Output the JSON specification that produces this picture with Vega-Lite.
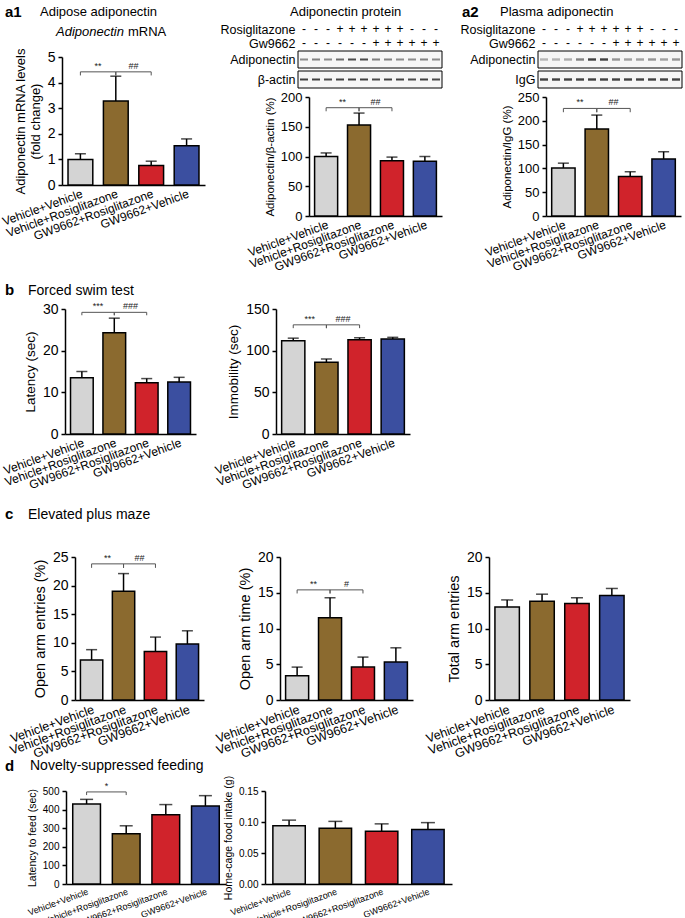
{
"$schema":"https://vega.github.io/schema/vega-lite/v6.json",
"padding":0,
"autosize":{"type":"pad"},
"columns":6,
"spacing":0,
"bounds":"flush",
"align":"each",
"datasets":{
"E":[],
"pm":[{"row":"Rosiglitazone","lane":1,"s":"-"},{"row":"Rosiglitazone","lane":2,"s":"-"},{"row":"Rosiglitazone","lane":3,"s":"-"},{"row":"Rosiglitazone","lane":4,"s":"+"},{"row":"Rosiglitazone","lane":5,"s":"+"},{"row":"Rosiglitazone","lane":6,"s":"+"},{"row":"Rosiglitazone","lane":7,"s":"+"},{"row":"Rosiglitazone","lane":8,"s":"+"},{"row":"Rosiglitazone","lane":9,"s":"+"},{"row":"Rosiglitazone","lane":10,"s":"-"},{"row":"Rosiglitazone","lane":11,"s":"-"},{"row":"Rosiglitazone","lane":12,"s":"-"},
{"row":"Gw9662","lane":1,"s":"-"},{"row":"Gw9662","lane":2,"s":"-"},{"row":"Gw9662","lane":3,"s":"-"},{"row":"Gw9662","lane":4,"s":"-"},{"row":"Gw9662","lane":5,"s":"-"},{"row":"Gw9662","lane":6,"s":"-"},{"row":"Gw9662","lane":7,"s":"+"},{"row":"Gw9662","lane":8,"s":"+"},{"row":"Gw9662","lane":9,"s":"+"},{"row":"Gw9662","lane":10,"s":"+"},{"row":"Gw9662","lane":11,"s":"+"},{"row":"Gw9662","lane":12,"s":"+"}],
"hm":[{"row":"Adiponectin","lane":1,"v":0.5},{"row":"Adiponectin","lane":2,"v":0.55},{"row":"Adiponectin","lane":3,"v":0.5},{"row":"Adiponectin","lane":4,"v":0.65},{"row":"Adiponectin","lane":5,"v":0.8},{"row":"Adiponectin","lane":6,"v":0.8},{"row":"Adiponectin","lane":7,"v":0.55},{"row":"Adiponectin","lane":8,"v":0.55},{"row":"Adiponectin","lane":9,"v":0.5},{"row":"Adiponectin","lane":10,"v":0.5},{"row":"Adiponectin","lane":11,"v":0.55},{"row":"Adiponectin","lane":12,"v":0.5},
{"row":"β-actin","lane":1,"v":0.85},{"row":"β-actin","lane":2,"v":0.85},{"row":"β-actin","lane":3,"v":0.8},{"row":"β-actin","lane":4,"v":0.85},{"row":"β-actin","lane":5,"v":0.85},{"row":"β-actin","lane":6,"v":0.85},{"row":"β-actin","lane":7,"v":0.8},{"row":"β-actin","lane":8,"v":0.85},{"row":"β-actin","lane":9,"v":0.85},{"row":"β-actin","lane":10,"v":0.8},{"row":"β-actin","lane":11,"v":0.85},{"row":"β-actin","lane":12,"v":0.8}],
"ha":[{"row":"Adiponectin","lane":1,"v":0.3},{"row":"Adiponectin","lane":2,"v":0.3},{"row":"Adiponectin","lane":3,"v":0.35},{"row":"Adiponectin","lane":4,"v":0.55},{"row":"Adiponectin","lane":5,"v":0.85},{"row":"Adiponectin","lane":6,"v":0.85},{"row":"Adiponectin","lane":7,"v":0.45},{"row":"Adiponectin","lane":8,"v":0.4},{"row":"Adiponectin","lane":9,"v":0.4},{"row":"Adiponectin","lane":10,"v":0.45},{"row":"Adiponectin","lane":11,"v":0.4},{"row":"Adiponectin","lane":12,"v":0.45},
{"row":"IgG","lane":1,"v":0.85},{"row":"IgG","lane":2,"v":0.85},{"row":"IgG","lane":3,"v":0.85},{"row":"IgG","lane":4,"v":0.85},{"row":"IgG","lane":5,"v":0.85},{"row":"IgG","lane":6,"v":0.85},{"row":"IgG","lane":7,"v":0.85},{"row":"IgG","lane":8,"v":0.85},{"row":"IgG","lane":9,"v":0.85},{"row":"IgG","lane":10,"v":0.85},{"row":"IgG","lane":11,"v":0.85},{"row":"IgG","lane":12,"v":0.85}],
"a1":[{"g":"Vehicle+Vehicle","m":1.0,"hi":1.22},{"g":"Vehicle+Rosiglitazone","m":3.28,"hi":4.25},{"g":"GW9662+Rosiglitazone","m":0.76,"hi":0.93},{"g":"GW9662+Vehicle","m":1.53,"hi":1.8}],
"a1l":[{"b":1,"s":1,"g":"Vehicle+Vehicle","y":4.28},{"b":1,"s":2,"g":"Vehicle+Vehicle","y":4.42},{"b":1,"s":3,"g":"Vehicle+Rosiglitazone","y":4.42},{"b":1,"s":4,"g":"Vehicle+Rosiglitazone","y":4.28},{"b":2,"s":1,"g":"Vehicle+Rosiglitazone","y":4.28},{"b":2,"s":2,"g":"Vehicle+Rosiglitazone","y":4.42},{"b":2,"s":3,"g":"GW9662+Rosiglitazone","y":4.42},{"b":2,"s":4,"g":"GW9662+Rosiglitazone","y":4.28}],
"a1t":[{"g":"Vehicle+Vehicle","y":4.42,"lab":"**"},{"g":"Vehicle+Rosiglitazone","y":4.42,"lab":"##"}],
"am":[{"g":"Vehicle+Vehicle","m":100,"hi":106},{"g":"Vehicle+Rosiglitazone","m":153,"hi":173},{"g":"GW9662+Rosiglitazone","m":93,"hi":99},{"g":"GW9662+Vehicle","m":92,"hi":100}],
"aml":[{"b":1,"s":1,"g":"Vehicle+Vehicle","y":176},{"b":1,"s":2,"g":"Vehicle+Vehicle","y":182},{"b":1,"s":3,"g":"Vehicle+Rosiglitazone","y":182},{"b":1,"s":4,"g":"Vehicle+Rosiglitazone","y":176},{"b":2,"s":1,"g":"Vehicle+Rosiglitazone","y":176},{"b":2,"s":2,"g":"Vehicle+Rosiglitazone","y":182},{"b":2,"s":3,"g":"GW9662+Rosiglitazone","y":182},{"b":2,"s":4,"g":"GW9662+Rosiglitazone","y":176}],
"amt":[{"g":"Vehicle+Vehicle","y":182,"lab":"**"},{"g":"Vehicle+Rosiglitazone","y":182,"lab":"##"}],
"a2":[{"g":"Vehicle+Vehicle","m":101,"hi":111},{"g":"Vehicle+Rosiglitazone","m":183,"hi":212},{"g":"GW9662+Rosiglitazone","m":83,"hi":93},{"g":"GW9662+Vehicle","m":120,"hi":135}],
"a2l":[{"b":1,"s":1,"g":"Vehicle+Vehicle","y":218},{"b":1,"s":2,"g":"Vehicle+Vehicle","y":226},{"b":1,"s":3,"g":"Vehicle+Rosiglitazone","y":226},{"b":1,"s":4,"g":"Vehicle+Rosiglitazone","y":218},{"b":2,"s":1,"g":"Vehicle+Rosiglitazone","y":218},{"b":2,"s":2,"g":"Vehicle+Rosiglitazone","y":226},{"b":2,"s":3,"g":"GW9662+Rosiglitazone","y":226},{"b":2,"s":4,"g":"GW9662+Rosiglitazone","y":218}],
"a2t":[{"g":"Vehicle+Vehicle","y":226,"lab":"**"},{"g":"Vehicle+Rosiglitazone","y":226,"lab":"##"}],
"b1":[{"g":"Vehicle+Vehicle","m":13.5,"hi":15.0},{"g":"Vehicle+Rosiglitazone","m":24.3,"hi":27.8},{"g":"GW9662+Rosiglitazone","m":12.3,"hi":13.3},{"g":"GW9662+Vehicle","m":12.5,"hi":13.6}],
"b1l":[{"b":1,"s":1,"g":"Vehicle+Vehicle","y":28.5},{"b":1,"s":2,"g":"Vehicle+Vehicle","y":29.2},{"b":1,"s":3,"g":"Vehicle+Rosiglitazone","y":29.2},{"b":1,"s":4,"g":"Vehicle+Rosiglitazone","y":28.5},{"b":2,"s":1,"g":"Vehicle+Rosiglitazone","y":28.5},{"b":2,"s":2,"g":"Vehicle+Rosiglitazone","y":29.2},{"b":2,"s":3,"g":"GW9662+Rosiglitazone","y":29.2},{"b":2,"s":4,"g":"GW9662+Rosiglitazone","y":28.5}],
"b1t":[{"g":"Vehicle+Vehicle","y":29.2,"lab":"***"},{"g":"Vehicle+Rosiglitazone","y":29.2,"lab":"###"}],
"b2":[{"g":"Vehicle+Vehicle","m":112,"hi":115},{"g":"Vehicle+Rosiglitazone","m":86,"hi":90},{"g":"GW9662+Rosiglitazone","m":113,"hi":115.5},{"g":"GW9662+Vehicle","m":114,"hi":116}],
"b2l":[{"b":1,"s":1,"g":"Vehicle+Vehicle","y":127},{"b":1,"s":2,"g":"Vehicle+Vehicle","y":131},{"b":1,"s":3,"g":"Vehicle+Rosiglitazone","y":131},{"b":1,"s":4,"g":"Vehicle+Rosiglitazone","y":127},{"b":2,"s":1,"g":"Vehicle+Rosiglitazone","y":127},{"b":2,"s":2,"g":"Vehicle+Rosiglitazone","y":131},{"b":2,"s":3,"g":"GW9662+Rosiglitazone","y":131},{"b":2,"s":4,"g":"GW9662+Rosiglitazone","y":127}],
"b2t":[{"g":"Vehicle+Vehicle","y":131,"lab":"***"},{"g":"Vehicle+Rosiglitazone","y":131,"lab":"###"}],
"c1":[{"g":"Vehicle+Vehicle","m":7.0,"hi":8.8},{"g":"Vehicle+Rosiglitazone","m":19.0,"hi":22.1},{"g":"GW9662+Rosiglitazone","m":8.5,"hi":11.0},{"g":"GW9662+Vehicle","m":9.8,"hi":12.1}],
"c1l":[{"b":1,"s":1,"g":"Vehicle+Vehicle","y":23.1},{"b":1,"s":2,"g":"Vehicle+Vehicle","y":23.8},{"b":1,"s":3,"g":"Vehicle+Rosiglitazone","y":23.8},{"b":1,"s":4,"g":"Vehicle+Rosiglitazone","y":23.1},{"b":2,"s":1,"g":"Vehicle+Rosiglitazone","y":23.1},{"b":2,"s":2,"g":"Vehicle+Rosiglitazone","y":23.8},{"b":2,"s":3,"g":"GW9662+Rosiglitazone","y":23.8},{"b":2,"s":4,"g":"GW9662+Rosiglitazone","y":23.1}],
"c1t":[{"g":"Vehicle+Vehicle","y":23.8,"lab":"**"},{"g":"Vehicle+Rosiglitazone","y":23.8,"lab":"##"}],
"c2":[{"g":"Vehicle+Vehicle","m":3.4,"hi":4.6},{"g":"Vehicle+Rosiglitazone","m":11.5,"hi":14.3},{"g":"GW9662+Rosiglitazone","m":4.6,"hi":6.0},{"g":"GW9662+Vehicle","m":5.3,"hi":7.3}],
"c2l":[{"b":1,"s":1,"g":"Vehicle+Vehicle","y":14.9},{"b":1,"s":2,"g":"Vehicle+Vehicle","y":15.4},{"b":1,"s":3,"g":"Vehicle+Rosiglitazone","y":15.4},{"b":1,"s":4,"g":"Vehicle+Rosiglitazone","y":14.9},{"b":2,"s":1,"g":"Vehicle+Rosiglitazone","y":14.9},{"b":2,"s":2,"g":"Vehicle+Rosiglitazone","y":15.4},{"b":2,"s":3,"g":"GW9662+Rosiglitazone","y":15.4},{"b":2,"s":4,"g":"GW9662+Rosiglitazone","y":14.9}],
"c2t":[{"g":"Vehicle+Vehicle","y":15.4,"lab":"**"},{"g":"Vehicle+Rosiglitazone","y":15.4,"lab":"#"}],
"c3":[{"g":"Vehicle+Vehicle","m":13.0,"hi":14.0},{"g":"Vehicle+Rosiglitazone","m":13.8,"hi":14.8},{"g":"GW9662+Rosiglitazone","m":13.5,"hi":14.3},{"g":"GW9662+Vehicle","m":14.6,"hi":15.6}],
"d1":[{"g":"Vehicle+Vehicle","m":430,"hi":455},{"g":"Vehicle+Rosiglitazone","m":270,"hi":313},{"g":"GW9662+Rosiglitazone","m":372,"hi":427},{"g":"GW9662+Vehicle","m":420,"hi":475}],
"d1l":[{"b":1,"s":1,"g":"Vehicle+Vehicle","y":478},{"b":1,"s":2,"g":"Vehicle+Vehicle","y":495},{"b":1,"s":3,"g":"Vehicle+Rosiglitazone","y":495},{"b":1,"s":4,"g":"Vehicle+Rosiglitazone","y":478}],
"d1t":[{"g":"Vehicle+Vehicle","y":495,"lab":"*"}],
"d2":[{"g":"Vehicle+Vehicle","m":0.094,"hi":0.103},{"g":"Vehicle+Rosiglitazone","m":0.090,"hi":0.101},{"g":"GW9662+Rosiglitazone","m":0.085,"hi":0.097},{"g":"GW9662+Vehicle","m":0.088,"hi":0.099}]
},
"concat":[
{"width":62,"height":22,"data":{"name":"E"},"mark":"point"},
{"width":164,"height":22,"data":{"name":"E"},"mark":"point"},
{"width":39,"height":22,"data":{"name":"E"},"mark":"point"},
{"width":187,"height":22,"data":{"name":"E"},"mark":"point"},
{"width":37,"height":22,"data":{"name":"E"},"mark":"point"},
{"width":193,"height":22,"data":{"name":"E"},"mark":"point"},

{"width":62,"height":1,"data":{"name":"E"},"mark":"point","title":{"text":"a1","anchor":"start","frame":"group","dx":5,"offset":2.5,"fontSize":15,"fontWeight":"bold"}},
{"width":1,"height":1,"data":{"name":"E"},"mark":"point","title":{"text":"Adipose adiponectin","anchor":"start","frame":"group","dx":-22,"offset":3.5,"fontSize":13}},
{"width":39,"height":1,"data":{"name":"E"},"mark":"point"},
{"width":177,"height":28,"title":{"text":"Adiponectin protein","anchor":"start","frame":"group","dx":25,"offset":3.5,"fontSize":13},
 "data":{"name":"pm"},"mark":{"type":"text","fontSize":12,"color":"black"},
 "encoding":{"x":{"field":"lane","type":"quantitative","scale":{"domain":[0.5,12.5],"range":[33,177],"nice":false,"zero":false},"axis":null},
  "y":{"field":"row","type":"nominal","scale":{"domain":["Rosiglitazone","Gw9662"],"paddingInner":0,"paddingOuter":0},"axis":{"title":null,"ticks":false,"domain":false,"labelFontSize":12.5,"labelPadding":3,"offset":-33}},
  "text":{"field":"s"}}},
{"width":37,"height":1,"data":{"name":"E"},"mark":"point","title":{"text":"a2","anchor":"start","frame":"group","dx":10,"offset":2.5,"fontSize":15,"fontWeight":"bold"}},
{"width":193,"height":28,"title":{"text":"Plasma adiponectin","anchor":"start","frame":"group","dx":11,"offset":3.5,"fontSize":13},
 "data":{"name":"pm"},"mark":{"type":"text","fontSize":12,"color":"black"},
 "encoding":{"x":{"field":"lane","type":"quantitative","scale":{"domain":[0.5,12.5],"range":[49,193],"nice":false,"zero":false},"axis":null},
  "y":{"field":"row","type":"nominal","scale":{"domain":["Rosiglitazone","Gw9662"],"paddingInner":0,"paddingOuter":0},"axis":{"title":null,"ticks":false,"domain":false,"labelFontSize":12.5,"labelPadding":3,"offset":-49}},
  "text":{"field":"s"}}},

{"width":62,"height":1,"data":{"name":"E"},"mark":"point"},
{"width":1,"height":1,"data":{"name":"E"},"mark":"point","title":{"text":"Adiponectin","anchor":"start","frame":"group","dx":-6,"offset":11.5,"fontSize":13,"fontStyle":"italic"}},
{"width":39,"height":1,"data":{"name":"E"},"mark":"point"},
{"width":177,"height":39,
 "layer":[
  {"data":{"values":[{"row":"Adiponectin"},{"row":"β-actin"}]},"mark":{"type":"rect","fill":"#f6f6f6","stroke":"black","strokeWidth":1},
   "encoding":{"x":{"datum":0.5,"type":"quantitative","scale":{"domain":[0.5,12.5],"range":[33,177],"nice":false,"zero":false},"axis":null},"x2":{"datum":12.5},"y":{"field":"row","type":"nominal","scale":{"domain":["Adiponectin","β-actin"],"paddingInner":0.15,"paddingOuter":0.05},"axis":{"title":null,"ticks":false,"domain":false,"labelFontSize":12.5,"labelPadding":3,"offset":-33}}}},
  {"data":{"name":"hm"},"mark":{"type":"point","shape":"M-1,-0.25H1V0.25H-1Z","size":64,"filled":true,"color":"#222","strokeWidth":0},
   "encoding":{"x":{"field":"lane","type":"quantitative","scale":{"domain":[0.5,12.5],"range":[33,177],"nice":false,"zero":false},"axis":null},"y":{"field":"row","type":"nominal","scale":{"domain":["Adiponectin","β-actin"],"paddingInner":0.15,"paddingOuter":0.05}},"opacity":{"field":"v","type":"quantitative","scale":null}}}
 ]},
{"width":37,"height":1,"data":{"name":"E"},"mark":"point"},
{"width":193,"height":39,
 "layer":[
  {"data":{"values":[{"row":"Adiponectin"},{"row":"IgG"}]},"mark":{"type":"rect","fill":"#f6f6f6","stroke":"black","strokeWidth":1},
   "encoding":{"x":{"datum":0.5,"type":"quantitative","scale":{"domain":[0.5,12.5],"range":[49,193],"nice":false,"zero":false},"axis":null},"x2":{"datum":12.5},"y":{"field":"row","type":"nominal","scale":{"domain":["Adiponectin","IgG"],"paddingInner":0.15,"paddingOuter":0.05},"axis":{"title":null,"ticks":false,"domain":false,"labelFontSize":12.5,"labelPadding":3,"offset":-49}}}},
  {"data":{"name":"ha"},"mark":{"type":"point","shape":"M-1,-0.3H1V0.3H-1Z","size":64,"filled":true,"color":"#222","strokeWidth":0},
   "encoding":{"x":{"field":"lane","type":"quantitative","scale":{"domain":[0.5,12.5],"range":[49,193],"nice":false,"zero":false},"axis":null},"y":{"field":"row","type":"nominal","scale":{"domain":["Adiponectin","IgG"],"paddingInner":0.15,"paddingOuter":0.05}},"opacity":{"field":"v","type":"quantitative","scale":null}}}
 ]},

{"width":62,"height":8,"data":{"name":"E"},"mark":"point"},
{"width":1,"height":8,"data":{"name":"E"},"mark":"point","title":{"text":"mRNA","anchor":"start","frame":"group","dx":66,"offset":50.5,"fontSize":13}},
{"width":39,"height":8,"data":{"name":"E"},"mark":"point"},
{"width":187,"height":8,"data":{"name":"E"},"mark":"point"},
{"width":37,"height":8,"data":{"name":"E"},"mark":"point"},
{"width":193,"height":8,"data":{"name":"E"},"mark":"point"},

{"width":62,"height":1,"data":{"name":"E"},"mark":"point"},
{"width":143,"height":119,
 "encoding":{"x":{"field":"g","type":"nominal","title":null,"scale":{"domain":["Vehicle+Vehicle","Vehicle+Rosiglitazone","GW9662+Rosiglitazone","GW9662+Vehicle"],"range":[0,143]},"axis":{"title":null,"labelFontSize":12,"offset":-31}}},
 "layer":[
  {"data":{"name":"a1"},"mark":{"type":"bar","stroke":"black","strokeWidth":1.5},"encoding":{"y":{"field":"m","type":"quantitative","scale":{"domain":[0,5],"nice":false,"range":[88,-40]},"axis":{"title":["Adiponectin mRNA levels","(fold change)"],"values":[0,1,2,3,4,5],"tickCount":20,"format":"d","labelOverlap":false,"labelFontSize":14,"titleFontSize":13}},"fill":{"field":"g","type":"nominal","scale":{"domain":["Vehicle+Vehicle","Vehicle+Rosiglitazone","GW9662+Rosiglitazone","GW9662+Vehicle"],"range":["#d4d4d4","#8b6a2f","#d0232b","#3b4fa0"]},"legend":null}}},
  {"data":{"name":"a1"},"mark":{"type":"rule","color":"black","strokeWidth":1.5},"encoding":{"y":{"field":"m","type":"quantitative"},"y2":{"field":"hi"}}},
  {"data":{"name":"a1"},"mark":{"type":"tick","color":"black","size":11,"thickness":1.5},"encoding":{"y":{"field":"hi","type":"quantitative"}}},
  {"data":{"name":"a1l"},"mark":{"type":"line","color":"#555","strokeWidth":1},"encoding":{"y":{"field":"y","type":"quantitative"},"detail":{"field":"b","type":"nominal"},"order":{"field":"s","type":"quantitative"}}},
  {"data":{"name":"a1t"},"mark":{"type":"text","baseline":"bottom","dy":-1,"fontSize":9,"color":"#222"},"encoding":{"x":{"field":"g","type":"nominal","title":null,"bandPosition":1.214,"scale":{"domain":["Vehicle+Vehicle","Vehicle+Rosiglitazone","GW9662+Rosiglitazone","GW9662+Vehicle"],"range":[0,143]},"axis":{"title":null,"labelFontSize":12,"offset":-31}},"y":{"field":"y","type":"quantitative"},"text":{"field":"lab"}}}
 ]},
{"width":39,"height":1,"data":{"name":"E"},"mark":"point"},
{"width":177,"height":119,
 "encoding":{"x":{"field":"g","type":"nominal","title":null,"scale":{"domain":["Vehicle+Vehicle","Vehicle+Rosiglitazone","GW9662+Rosiglitazone","GW9662+Vehicle"],"range":[44,177]},"axis":{"title":null,"labelFontSize":12}}},
 "layer":[
  {"data":{"name":"am"},"mark":{"type":"bar","stroke":"black","strokeWidth":1.5},"encoding":{"y":{"field":"m","type":"quantitative","scale":{"domain":[0,200],"nice":false},"axis":{"title":"Adiponectin/β-actin (%)","values":[0,50,100,150,200],"tickCount":20,"format":"d","labelOverlap":false,"labelFontSize":13,"titleFontSize":11.5,"offset":-44}},"fill":{"field":"g","type":"nominal","scale":{"domain":["Vehicle+Vehicle","Vehicle+Rosiglitazone","GW9662+Rosiglitazone","GW9662+Vehicle"],"range":["#d4d4d4","#8b6a2f","#d0232b","#3b4fa0"]},"legend":null}}},
  {"data":{"name":"am"},"mark":{"type":"rule","color":"black","strokeWidth":1.5},"encoding":{"y":{"field":"m","type":"quantitative"},"y2":{"field":"hi"}}},
  {"data":{"name":"am"},"mark":{"type":"tick","color":"black","size":11,"thickness":1.5},"encoding":{"y":{"field":"hi","type":"quantitative"}}},
  {"data":{"name":"aml"},"mark":{"type":"line","color":"#555","strokeWidth":1},"encoding":{"y":{"field":"y","type":"quantitative"},"detail":{"field":"b","type":"nominal"},"order":{"field":"s","type":"quantitative"}}},
  {"data":{"name":"amt"},"mark":{"type":"text","baseline":"bottom","dy":-1,"fontSize":9,"color":"#222"},"encoding":{"x":{"field":"g","type":"nominal","title":null,"bandPosition":1.214,"scale":{"domain":["Vehicle+Vehicle","Vehicle+Rosiglitazone","GW9662+Rosiglitazone","GW9662+Vehicle"],"range":[44,177]},"axis":{"title":null,"labelFontSize":12}},"y":{"field":"y","type":"quantitative"},"text":{"field":"lab"}}}
 ]},
{"width":37,"height":1,"data":{"name":"E"},"mark":"point"},
{"width":192,"height":119,
 "encoding":{"x":{"field":"g","type":"nominal","title":null,"scale":{"domain":["Vehicle+Vehicle","Vehicle+Rosiglitazone","GW9662+Rosiglitazone","GW9662+Vehicle"],"range":[57,192]},"axis":{"title":null,"labelFontSize":12}}},
 "layer":[
  {"data":{"name":"a2"},"mark":{"type":"bar","stroke":"black","strokeWidth":1.5},"encoding":{"y":{"field":"m","type":"quantitative","scale":{"domain":[0,250],"nice":false},"axis":{"title":"Adiponectin/IgG (%)","values":[0,50,100,150,200,250],"tickCount":20,"format":"d","labelOverlap":false,"labelFontSize":13,"titleFontSize":11.5,"offset":-57}},"fill":{"field":"g","type":"nominal","scale":{"domain":["Vehicle+Vehicle","Vehicle+Rosiglitazone","GW9662+Rosiglitazone","GW9662+Vehicle"],"range":["#d4d4d4","#8b6a2f","#d0232b","#3b4fa0"]},"legend":null}}},
  {"data":{"name":"a2"},"mark":{"type":"rule","color":"black","strokeWidth":1.5},"encoding":{"y":{"field":"m","type":"quantitative"},"y2":{"field":"hi"}}},
  {"data":{"name":"a2"},"mark":{"type":"tick","color":"black","size":11,"thickness":1.5},"encoding":{"y":{"field":"hi","type":"quantitative"}}},
  {"data":{"name":"a2l"},"mark":{"type":"line","color":"#555","strokeWidth":1},"encoding":{"y":{"field":"y","type":"quantitative"},"detail":{"field":"b","type":"nominal"},"order":{"field":"s","type":"quantitative"}}},
  {"data":{"name":"a2t"},"mark":{"type":"text","baseline":"bottom","dy":-1,"fontSize":9,"color":"#222"},"encoding":{"x":{"field":"g","type":"nominal","title":null,"bandPosition":1.214,"scale":{"domain":["Vehicle+Vehicle","Vehicle+Rosiglitazone","GW9662+Rosiglitazone","GW9662+Vehicle"],"range":[57,192]},"axis":{"title":null,"labelFontSize":12}},"y":{"field":"y","type":"quantitative"},"text":{"field":"lab"}}}
 ]},

{"width":62,"height":93,"data":{"name":"E"},"mark":"point"},
{"width":164,"height":93,"data":{"name":"E"},"mark":"point"},
{"width":39,"height":93,"data":{"name":"E"},"mark":"point"},
{"width":187,"height":93,"data":{"name":"E"},"mark":"point"},
{"width":37,"height":93,"data":{"name":"E"},"mark":"point"},
{"width":193,"height":93,"data":{"name":"E"},"mark":"point"},

{"width":62,"height":1,"data":{"name":"E"},"mark":"point","title":{"text":"b","anchor":"start","frame":"group","dx":5,"offset":11.5,"fontSize":15,"fontWeight":"bold"}},
{"width":134,"height":125,
 "title":{"text":"Forced swim test","anchor":"start","frame":"group","dx":-34,"offset":4.5,"fontSize":14},
 "encoding":{"x":{"field":"g","type":"nominal","title":null,"scale":{"domain":["Vehicle+Vehicle","Vehicle+Rosiglitazone","GW9662+Rosiglitazone","GW9662+Vehicle"],"range":[3,134]},"axis":{"title":null,"labelFontSize":12}}},
 "layer":[
  {"data":{"name":"b1"},"mark":{"type":"bar","stroke":"black","strokeWidth":1.5},"encoding":{"y":{"field":"m","type":"quantitative","scale":{"domain":[0,30],"nice":false},"axis":{"title":"Latency (sec)","values":[0,10,20,30],"tickCount":20,"format":"d","labelOverlap":false,"labelFontSize":14,"titleFontSize":13.5,"offset":-3}},"fill":{"field":"g","type":"nominal","scale":{"domain":["Vehicle+Vehicle","Vehicle+Rosiglitazone","GW9662+Rosiglitazone","GW9662+Vehicle"],"range":["#d4d4d4","#8b6a2f","#d0232b","#3b4fa0"]},"legend":null}}},
  {"data":{"name":"b1"},"mark":{"type":"rule","color":"black","strokeWidth":1.5},"encoding":{"y":{"field":"m","type":"quantitative"},"y2":{"field":"hi"}}},
  {"data":{"name":"b1"},"mark":{"type":"tick","color":"black","size":11,"thickness":1.5},"encoding":{"y":{"field":"hi","type":"quantitative"}}},
  {"data":{"name":"b1l"},"mark":{"type":"line","color":"#555","strokeWidth":1},"encoding":{"y":{"field":"y","type":"quantitative"},"detail":{"field":"b","type":"nominal"},"order":{"field":"s","type":"quantitative"}}},
  {"data":{"name":"b1t"},"mark":{"type":"text","baseline":"bottom","dy":-1,"fontSize":9,"color":"#222"},"encoding":{"x":{"field":"g","type":"nominal","title":null,"bandPosition":1.214,"scale":{"domain":["Vehicle+Vehicle","Vehicle+Rosiglitazone","GW9662+Rosiglitazone","GW9662+Vehicle"],"range":[3,134]},"axis":{"title":null,"labelFontSize":12}},"y":{"field":"y","type":"quantitative"},"text":{"field":"lab"}}}
 ]},
{"width":39,"height":1,"data":{"name":"E"},"mark":"point"},
{"width":145,"height":125,
 "encoding":{"x":{"field":"g","type":"nominal","title":null,"scale":{"domain":["Vehicle+Vehicle","Vehicle+Rosiglitazone","GW9662+Rosiglitazone","GW9662+Vehicle"],"range":[11,145]},"axis":{"title":null,"labelFontSize":12}}},
 "layer":[
  {"data":{"name":"b2"},"mark":{"type":"bar","stroke":"black","strokeWidth":1.5},"encoding":{"y":{"field":"m","type":"quantitative","scale":{"domain":[0,150],"nice":false},"axis":{"title":"Immobility (sec)","values":[0,50,100,150],"tickCount":20,"format":"d","labelOverlap":false,"labelFontSize":14,"titleFontSize":13.5,"offset":-11}},"fill":{"field":"g","type":"nominal","scale":{"domain":["Vehicle+Vehicle","Vehicle+Rosiglitazone","GW9662+Rosiglitazone","GW9662+Vehicle"],"range":["#d4d4d4","#8b6a2f","#d0232b","#3b4fa0"]},"legend":null}}},
  {"data":{"name":"b2"},"mark":{"type":"rule","color":"black","strokeWidth":1.5},"encoding":{"y":{"field":"m","type":"quantitative"},"y2":{"field":"hi"}}},
  {"data":{"name":"b2"},"mark":{"type":"tick","color":"black","size":11,"thickness":1.5},"encoding":{"y":{"field":"hi","type":"quantitative"}}},
  {"data":{"name":"b2l"},"mark":{"type":"line","color":"#555","strokeWidth":1},"encoding":{"y":{"field":"y","type":"quantitative"},"detail":{"field":"b","type":"nominal"},"order":{"field":"s","type":"quantitative"}}},
  {"data":{"name":"b2t"},"mark":{"type":"text","baseline":"bottom","dy":-1,"fontSize":9,"color":"#222"},"encoding":{"x":{"field":"g","type":"nominal","title":null,"bandPosition":1.214,"scale":{"domain":["Vehicle+Vehicle","Vehicle+Rosiglitazone","GW9662+Rosiglitazone","GW9662+Vehicle"],"range":[11,145]},"axis":{"title":null,"labelFontSize":12}},"y":{"field":"y","type":"quantitative"},"text":{"field":"lab"}}}
 ]},
{"width":37,"height":1,"data":{"name":"E"},"mark":"point"},
{"width":1,"height":1,"data":{"name":"E"},"mark":"point"},

{"width":62,"height":123,"data":{"name":"E"},"mark":"point"},
{"width":164,"height":123,"data":{"name":"E"},"mark":"point"},
{"width":39,"height":123,"data":{"name":"E"},"mark":"point"},
{"width":187,"height":123,"data":{"name":"E"},"mark":"point"},
{"width":37,"height":123,"data":{"name":"E"},"mark":"point"},
{"width":193,"height":123,"data":{"name":"E"},"mark":"point"},

{"width":62,"height":1,"data":{"name":"E"},"mark":"point","title":{"text":"c","anchor":"start","frame":"group","dx":5,"offset":35.5,"fontSize":15,"fontWeight":"bold"}},
{"width":142,"height":143,
 "title":{"text":"Elevated plus maze","anchor":"start","frame":"group","dx":-34,"offset":28.5,"fontSize":14},
 "encoding":{"x":{"field":"g","type":"nominal","title":null,"scale":{"domain":["Vehicle+Vehicle","Vehicle+Rosiglitazone","GW9662+Rosiglitazone","GW9662+Vehicle"],"range":[13,142]},"axis":{"title":null,"labelFontSize":12.5}}},
 "layer":[
  {"data":{"name":"c1"},"mark":{"type":"bar","stroke":"black","strokeWidth":1.5},"encoding":{"y":{"field":"m","type":"quantitative","scale":{"domain":[0,25],"nice":false},"axis":{"title":"Open arm entries (%)","values":[0,5,10,15,20,25],"tickCount":20,"format":"d","labelOverlap":false,"labelFontSize":14,"titleFontSize":14.5,"offset":-13}},"fill":{"field":"g","type":"nominal","scale":{"domain":["Vehicle+Vehicle","Vehicle+Rosiglitazone","GW9662+Rosiglitazone","GW9662+Vehicle"],"range":["#d4d4d4","#8b6a2f","#d0232b","#3b4fa0"]},"legend":null}}},
  {"data":{"name":"c1"},"mark":{"type":"rule","color":"black","strokeWidth":1.5},"encoding":{"y":{"field":"m","type":"quantitative"},"y2":{"field":"hi"}}},
  {"data":{"name":"c1"},"mark":{"type":"tick","color":"black","size":11,"thickness":1.5},"encoding":{"y":{"field":"hi","type":"quantitative"}}},
  {"data":{"name":"c1l"},"mark":{"type":"line","color":"#555","strokeWidth":1},"encoding":{"y":{"field":"y","type":"quantitative"},"detail":{"field":"b","type":"nominal"},"order":{"field":"s","type":"quantitative"}}},
  {"data":{"name":"c1t"},"mark":{"type":"text","baseline":"bottom","dy":-1,"fontSize":9,"color":"#222"},"encoding":{"x":{"field":"g","type":"nominal","title":null,"bandPosition":1.214,"scale":{"domain":["Vehicle+Vehicle","Vehicle+Rosiglitazone","GW9662+Rosiglitazone","GW9662+Vehicle"],"range":[13,142]},"axis":{"title":null,"labelFontSize":12.5}},"y":{"field":"y","type":"quantitative"},"text":{"field":"lab"}}}
 ]},
{"width":39,"height":1,"data":{"name":"E"},"mark":"point"},
{"width":148,"height":143,
 "encoding":{"x":{"field":"g","type":"nominal","title":null,"scale":{"domain":["Vehicle+Vehicle","Vehicle+Rosiglitazone","GW9662+Rosiglitazone","GW9662+Vehicle"],"range":[15,148]},"axis":{"title":null,"labelFontSize":12.5}}},
 "layer":[
  {"data":{"name":"c2"},"mark":{"type":"bar","stroke":"black","strokeWidth":1.5},"encoding":{"y":{"field":"m","type":"quantitative","scale":{"domain":[0,20],"nice":false},"axis":{"title":"Open arm time (%)","values":[0,5,10,15,20],"tickCount":20,"format":"d","labelOverlap":false,"labelFontSize":14,"titleFontSize":14.5,"offset":-15}},"fill":{"field":"g","type":"nominal","scale":{"domain":["Vehicle+Vehicle","Vehicle+Rosiglitazone","GW9662+Rosiglitazone","GW9662+Vehicle"],"range":["#d4d4d4","#8b6a2f","#d0232b","#3b4fa0"]},"legend":null}}},
  {"data":{"name":"c2"},"mark":{"type":"rule","color":"black","strokeWidth":1.5},"encoding":{"y":{"field":"m","type":"quantitative"},"y2":{"field":"hi"}}},
  {"data":{"name":"c2"},"mark":{"type":"tick","color":"black","size":11,"thickness":1.5},"encoding":{"y":{"field":"hi","type":"quantitative"}}},
  {"data":{"name":"c2l"},"mark":{"type":"line","color":"#555","strokeWidth":1},"encoding":{"y":{"field":"y","type":"quantitative"},"detail":{"field":"b","type":"nominal"},"order":{"field":"s","type":"quantitative"}}},
  {"data":{"name":"c2t"},"mark":{"type":"text","baseline":"bottom","dy":-1,"fontSize":9,"color":"#222"},"encoding":{"x":{"field":"g","type":"nominal","title":null,"bandPosition":1.214,"scale":{"domain":["Vehicle+Vehicle","Vehicle+Rosiglitazone","GW9662+Rosiglitazone","GW9662+Vehicle"],"range":[15,148]},"axis":{"title":null,"labelFontSize":12.5}},"y":{"field":"y","type":"quantitative"},"text":{"field":"lab"}}}
 ]},
{"width":37,"height":1,"data":{"name":"E"},"mark":"point"},
{"width":141,"height":143,
 "encoding":{"x":{"field":"g","type":"nominal","title":null,"scale":{"domain":["Vehicle+Vehicle","Vehicle+Rosiglitazone","GW9662+Rosiglitazone","GW9662+Vehicle"],"range":[0,141]},"axis":{"title":null,"labelFontSize":12.5}}},
 "layer":[
  {"data":{"name":"c3"},"mark":{"type":"bar","stroke":"black","strokeWidth":1.5},"encoding":{"y":{"field":"m","type":"quantitative","scale":{"domain":[0,20],"nice":false},"axis":{"title":"Total arm entries","values":[0,5,10,15,20],"tickCount":20,"format":"d","labelOverlap":false,"labelFontSize":14,"titleFontSize":14.5}},"fill":{"field":"g","type":"nominal","scale":{"domain":["Vehicle+Vehicle","Vehicle+Rosiglitazone","GW9662+Rosiglitazone","GW9662+Vehicle"],"range":["#d4d4d4","#8b6a2f","#d0232b","#3b4fa0"]},"legend":null}}},
  {"data":{"name":"c3"},"mark":{"type":"rule","color":"black","strokeWidth":1.5},"encoding":{"y":{"field":"m","type":"quantitative"},"y2":{"field":"hi"}}},
  {"data":{"name":"c3"},"mark":{"type":"tick","color":"black","size":12,"thickness":1.5},"encoding":{"y":{"field":"hi","type":"quantitative"}}}
 ]},

{"width":62,"height":91,"data":{"name":"E"},"mark":"point"},
{"width":164,"height":91,"data":{"name":"E"},"mark":"point"},
{"width":39,"height":91,"data":{"name":"E"},"mark":"point"},
{"width":187,"height":91,"data":{"name":"E"},"mark":"point"},
{"width":37,"height":91,"data":{"name":"E"},"mark":"point"},
{"width":193,"height":91,"data":{"name":"E"},"mark":"point"},

{"width":62,"height":1,"data":{"name":"E"},"mark":"point","title":{"text":"d","anchor":"start","frame":"group","dx":5,"offset":17.5,"fontSize":15,"fontWeight":"bold"}},
{"width":164,"height":93,
 "title":{"text":"Novelty-suppressed feeding","anchor":"start","frame":"group","dx":-32,"offset":8.5,"fontSize":14},
 "encoding":{"x":{"field":"g","type":"nominal","title":null,"scale":{"domain":["Vehicle+Vehicle","Vehicle+Rosiglitazone","GW9662+Rosiglitazone","GW9662+Vehicle"],"range":[4,164]},"axis":{"title":null,"labelFontSize":9}}},
 "layer":[
  {"data":{"name":"d1"},"mark":{"type":"bar","stroke":"black","strokeWidth":1.5},"encoding":{"y":{"field":"m","type":"quantitative","scale":{"domain":[0,500],"nice":false},"axis":{"title":"Latency to feed (sec)","values":[0,100,200,300,400,500],"tickCount":20,"format":"d","labelOverlap":false,"labelFontSize":10,"titleFontSize":10.5,"offset":-4}},"fill":{"field":"g","type":"nominal","scale":{"domain":["Vehicle+Vehicle","Vehicle+Rosiglitazone","GW9662+Rosiglitazone","GW9662+Vehicle"],"range":["#d4d4d4","#8b6a2f","#d0232b","#3b4fa0"]},"legend":null}}},
  {"data":{"name":"d1"},"mark":{"type":"rule","color":"black","strokeWidth":1.5},"encoding":{"y":{"field":"m","type":"quantitative"},"y2":{"field":"hi"}}},
  {"data":{"name":"d1"},"mark":{"type":"tick","color":"black","size":13,"thickness":1.5},"encoding":{"y":{"field":"hi","type":"quantitative"}}},
  {"data":{"name":"d1l"},"mark":{"type":"line","color":"#555","strokeWidth":1},"encoding":{"y":{"field":"y","type":"quantitative"},"detail":{"field":"b","type":"nominal"},"order":{"field":"s","type":"quantitative"}}},
  {"data":{"name":"d1t"},"mark":{"type":"text","baseline":"bottom","dy":-1,"fontSize":9,"color":"#222"},"encoding":{"x":{"field":"g","type":"nominal","title":null,"bandPosition":1.214,"scale":{"domain":["Vehicle+Vehicle","Vehicle+Rosiglitazone","GW9662+Rosiglitazone","GW9662+Vehicle"],"range":[4,164]},"axis":{"title":null,"labelFontSize":9}},"y":{"field":"y","type":"quantitative"},"text":{"field":"lab"}}}
 ]},
{"width":39,"height":1,"data":{"name":"E"},"mark":"point"},
{"width":187,"height":93,
 "encoding":{"x":{"field":"g","type":"nominal","title":null,"scale":{"domain":["Vehicle+Vehicle","Vehicle+Rosiglitazone","GW9662+Rosiglitazone","GW9662+Vehicle"],"range":[0,187]},"axis":{"title":null,"labelFontSize":9}}},
 "layer":[
  {"data":{"name":"d2"},"mark":{"type":"bar","stroke":"black","strokeWidth":1.5},"encoding":{"y":{"field":"m","type":"quantitative","scale":{"domain":[0,0.15],"nice":false},"axis":{"title":"Home-cage food intake (g)","values":[0,0.05,0.1,0.15],"tickCount":20,"format":".2f","labelOverlap":false,"labelFontSize":10,"titleFontSize":10.5}},"fill":{"field":"g","type":"nominal","scale":{"domain":["Vehicle+Vehicle","Vehicle+Rosiglitazone","GW9662+Rosiglitazone","GW9662+Vehicle"],"range":["#d4d4d4","#8b6a2f","#d0232b","#3b4fa0"]},"legend":null}}},
  {"data":{"name":"d2"},"mark":{"type":"rule","color":"black","strokeWidth":1.5},"encoding":{"y":{"field":"m","type":"quantitative"},"y2":{"field":"hi"}}},
  {"data":{"name":"d2"},"mark":{"type":"tick","color":"black","size":14,"thickness":1.5},"encoding":{"y":{"field":"hi","type":"quantitative"}}}
 ]},
{"width":37,"height":1,"data":{"name":"E"},"mark":"point"},
{"width":1,"height":1,"data":{"name":"E"},"mark":"point"}
],
"config":{
 "font":"Liberation Sans",
 "view":{"stroke":null},
 "scale":{"bandPaddingInner":0.3,"bandPaddingOuter":0.17},
 "axis":{"domainColor":"black","domainWidth":1.5,"tickColor":"black","tickWidth":1.5,"tickSize":4,"labelColor":"black","titleColor":"black","labelFont":"Liberation Sans","titleFont":"Liberation Sans","titleFontWeight":"normal","grid":false,"labelFontSize":13,"titleFontSize":13,"labelOverlap":false},
 "axisX":{"ticks":false,"labelAngle":-20,"labelAlign":"right","labelBaseline":"top","labelPadding":3,"labelOverlap":false},
 "axisY":{"labelPadding":3,"titlePadding":5,"labelOverlap":false},
 "title":{"font":"Liberation Sans","color":"black","fontWeight":"normal"},
 "text":{"font":"Liberation Sans"}
}
}
